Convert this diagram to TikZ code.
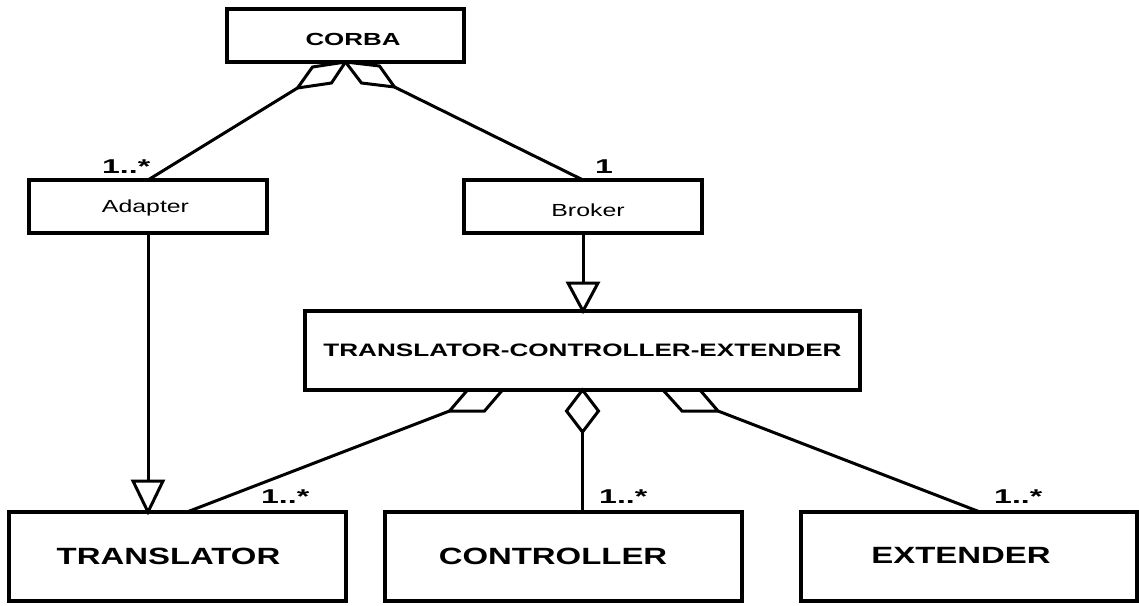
\documentclass[tikz,border=0pt]{standalone}
\usepackage{fontspec}
\usepackage{graphicx}
\setmainfont{Liberation Sans}
\newcommand{\widetext}[2]{\scalebox{#1}[1]{#2}}
\begin{document}
\begin{tikzpicture}[x=1pt,y=-1pt,
  box/.style={draw, rectangle, line width=3.2pt, inner sep=0pt, outer sep=0pt},
  conn/.style={line width=3pt, line join=miter},
  cls/.style={inner sep=0pt, text depth=0pt, font=\fontsize{#1}{#1}\selectfont\bfseries},
  clsreg/.style={inner sep=0pt, text depth=0pt, font=\fontsize{#1}{#1}\selectfont},
  mult/.style={inner sep=0pt, anchor=base west, font=\fontsize{20}{20}\selectfont\bfseries}]
\useasboundingbox (0,0) rectangle (1139,605);

% class boxes
\node[box, minimum width=237pt, minimum height=53pt] (corba) at (345.5,35.5) {};
\node[box, minimum width=238pt, minimum height=53pt] (adapter) at (148,206.5) {};
\node[box, minimum width=238pt, minimum height=53pt] (broker) at (583,206.5) {};
\node[box, minimum width=555pt, minimum height=79pt] (tce) at (582.5,350.5) {};
\node[box, minimum width=337pt, minimum height=89pt] (translator) at (177.5,556.5) {};
\node[box, minimum width=357pt, minimum height=89pt] (controller) at (563.5,556.5) {};
\node[box, minimum width=336pt, minimum height=89pt] (extender) at (969,556.5) {};

% class names
\node[cls=17.5] (corbaT) at ([xshift=7.5pt,yshift=-3.5pt]corba.center) {\widetext{1.48}{CORBA}};
\node[clsreg=17.5] (adapterT) at ([xshift=-2.5pt]adapter.center) {\widetext{1.42}{Adapter}};
\node[clsreg=17.5] (brokerT) at ([xshift=5pt,yshift=-3.5pt]broker.center) {\widetext{1.42}{Broker}};
\node[cls=18] (tceT) at (tce.center) {\widetext{1.45}{TRANSLATOR-CONTROLLER-EXTENDER}};
\node[cls=23.5] (translatorT) at ([xshift=-9pt]translator.center) {\widetext{1.4}{TRANSLATOR}};
\node[cls=23.5] (controllerT) at ([xshift=-10.5pt]controller.center) {\widetext{1.4}{CONTROLLER}};
\node[cls=23.5] (extenderT) at ([xshift=-8pt,yshift=1pt]extender.center) {\widetext{1.4}{EXTENDER}};

% aggregations from CORBA
\draw[conn] (corba.south) -- ++(-33,5) -- ++(-15,21) coordinate (ca) -- ++(34,-5) -- cycle;
\draw[conn] (ca) -- (adapter.north);
\draw[conn] (corba.south) -- ++(34,4) -- ++(15,21) coordinate (cb) -- ++(-33,-4) -- cycle;
\draw[conn] (cb) -- (broker.north);

% generalizations
\coordinate (g1) at (adapter.south |- translator.north);
\draw[conn] (adapter.south) -- ([yshift=31pt]g1);
\draw[conn] (g1) -- ++(-15,-31) -- ++(30,0) -- cycle;
\coordinate (g2) at (broker.south |- tce.north);
\draw[conn] (broker.south) -- ([yshift=28pt]g2);
\draw[conn] (g2) -- ++(-15,-28) -- ++(30,0) -- cycle;

% aggregations from TRANSLATOR-CONTROLLER-EXTENDER
\draw[conn] (tce.south) ++(-115,0) -- ++(35,0) -- ++(-18,21) -- ++(-35,0) coordinate (tl) -- cycle;
\draw[conn] (tl) -- ([xshift=9.5pt]translator.north);
\draw[conn] (tce.south) -- ++(-16,21) -- ++(16,21) coordinate (tm) -- ++(16,-21) -- cycle;
\draw[conn] (tm) -- (tce.south |- controller.north);
\draw[conn] (tce.south) ++(80.5,0) -- ++(37,0) -- ++(18,21) coordinate (tr) -- ++(-36,0) -- cycle;
\draw[conn] (tr) -- ([xshift=11pt]extender.north);

% multiplicities
\node[mult] (m1) at (102,173) {\widetext{1.6}{1..*}};
\node[mult] (m2) at (261,503) {\widetext{1.6}{1..*}};
\node[mult] (m3) at (599,503) {\widetext{1.6}{1..*}};
\node[mult] (m4) at (994,503) {\widetext{1.6}{1..*}};
\node[mult] (m5) at (595,173) {\widetext{1.6}{1}};
\end{tikzpicture}
\end{document}
